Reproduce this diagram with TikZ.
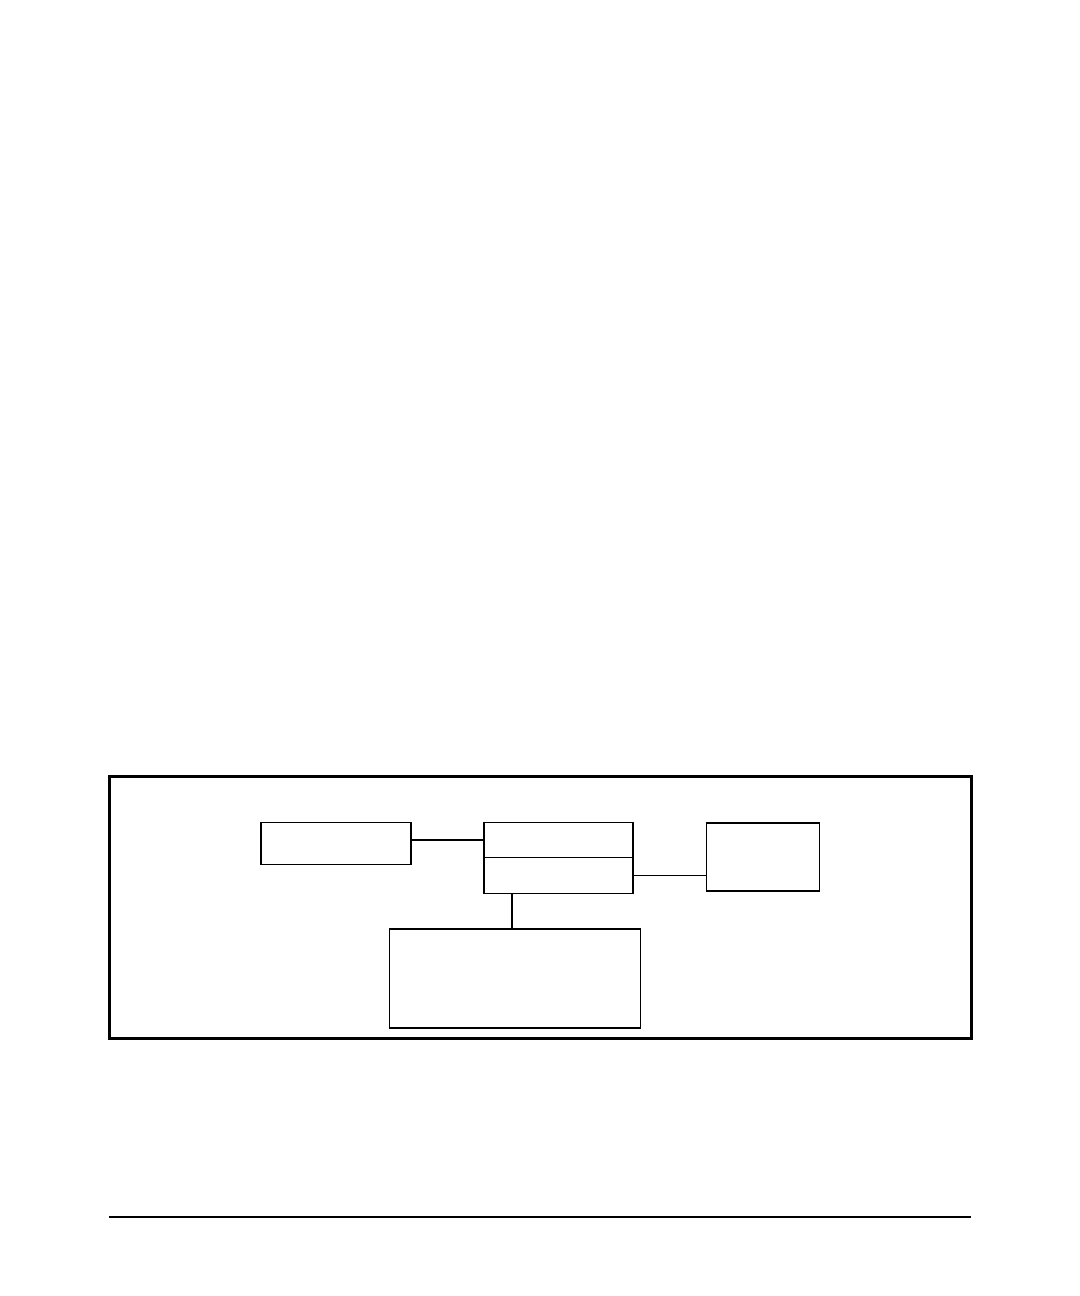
\documentclass[tikz,border=0pt]{standalone}
\usepackage{tikz}
\usetikzlibrary{positioning}
\usetikzlibrary{calc}

\begin{document}
\begin{tikzpicture}[x=0.5pt,y=-0.5pt,box/.style={rectangle,draw,line width=0.65pt,inner sep=0pt,outer sep=0pt},link/.style={line width=0.6pt}]
            \useasboundingbox (0,0) rectangle (1080,1296);
            \node[rectangle,draw,line width=1.5pt,minimum width=431pt,minimum height=131pt,inner sep=0pt] (frame) at (540,907) {};
            \begin{scope}[every node/.style={box}]
              \node[minimum width=75pt,minimum height=21pt] (src) at (336,843.5) {};
              \node[minimum width=74.5pt,minimum height=17.5pt] (hubtop) at (558.5,840) {};
              \node[minimum width=74.5pt,minimum height=18pt,below=0pt of hubtop] (hubbot) {};
              \node[minimum width=56.5pt,minimum height=34pt] (dst) at (762.8,857) {};
              \node[minimum width=125.5pt,minimum height=49.5pt] (store) at (515,978.5) {};
            \end{scope}
            \draw[link] (src.east |- hubtop.west) -- (hubtop.west);
            \draw[link] (hubbot.east) -- (hubbot.east -| dst.west);
            \draw[link] (hubbot.south west) ++(28,0) coordinate (tap) -- (tap |- store.north);
            \coordinate (footl) at (109,1217);
            \coordinate (footr) at (971,1217);
            \draw[line width=0.6pt] (footl) -- (footr);
          \end{tikzpicture}
\end{document}
